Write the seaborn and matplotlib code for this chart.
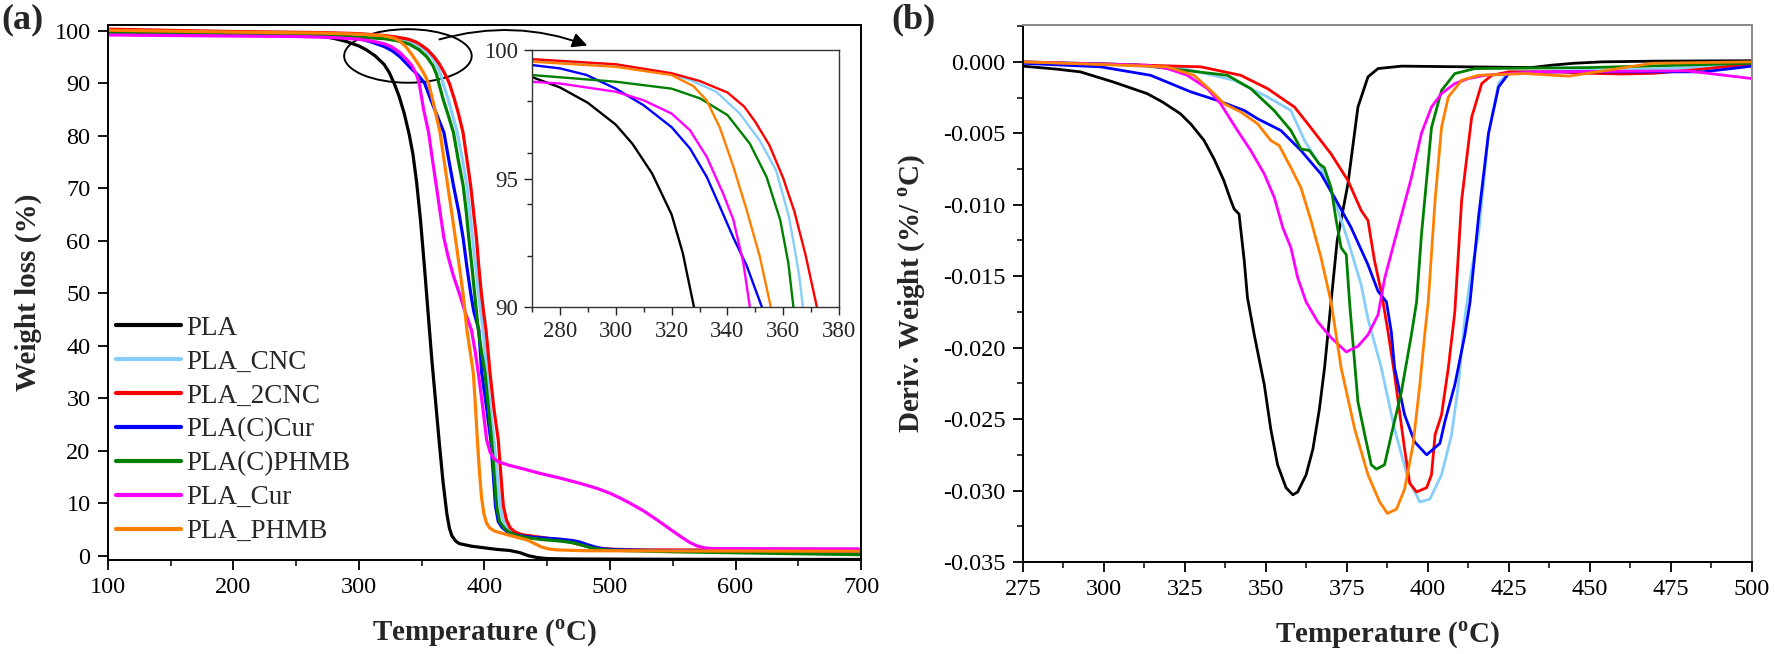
import numpy as np
import pandas as pd
import matplotlib
matplotlib.use("Agg")
import matplotlib.pyplot as plt
import seaborn as sns
from matplotlib.patches import Ellipse, FancyArrowPatch
from matplotlib.ticker import MultipleLocator, FormatStrFormatter

sns.set_style("ticks")
plt.rcParams["font.family"] = ["Liberation Serif", "DejaVu Serif"]
plt.rcParams["mathtext.fontset"] = "custom"
plt.rcParams["mathtext.rm"] = "Liberation Serif"
plt.rcParams["mathtext.bf"] = "Liberation Serif:bold"
plt.rcParams["axes.unicode_minus"] = False

samples = ["PLA", "PLA_CNC", "PLA_2CNC", "PLA(C)Cur", "PLA(C)PHMB", "PLA_Cur", "PLA_PHMB"]
colors = ["#000000", "#87CEFA", "#FF0000", "#0000FF", "#008000", "#FF00FF", "#FF8000"]

# ---- TGA (weight %) (a) and its inset ----
t_pla = [100, 200, 250, 270, 280, 290, 300, 306, 313, 320, 324, 328, 332, 336, 340, 343, 346, 349, 352,
         355, 358, 361, 364, 367, 370, 372, 374, 377, 380, 390, 400, 410, 420, 428, 435, 442, 450, 470, 550, 700]
w_pla = [99.5, 99.4, 99.2, 98.95, 98.55, 97.95, 97.1, 96.35, 95.2, 93.6, 92.1, 90.0, 87.5, 84.3, 80.3, 76.5,
         71.0, 64.0, 55.5, 46.5, 37.5, 29.5, 21.5, 14.0, 8.0, 5.3, 3.8, 2.8, 2.3, 1.8, 1.5, 1.2, 1.0, 0.6, 0.0,
         -0.35, -0.55, -0.62, -0.68, -0.72]

t_cnc = [100, 200, 270, 300, 320, 326.4, 336, 344.3, 351.5, 357.4, 360, 362, 364, 365.7, 367, 371, 374.5,
         378.3, 382, 386, 388.3, 390.5, 393, 395.1, 397, 398.8, 400.3, 401.8, 404.5, 407.6, 410, 412.4, 415,
         418.5, 422, 428, 445, 460, 470, 478, 485, 492, 500, 550, 700]
w_cnc = [100.0, 99.8, 99.6, 99.4, 99.05, 98.85, 98.38, 97.54, 96.49, 95.32, 94.3, 93.5, 92.3, 91.2, 90.0,
         87.0, 84.0, 80.6, 76.0, 70.5, 65.5, 60.5, 55.0, 50.0, 46.5, 43.0, 39.0, 34.8, 28.5, 22.0, 15.5, 9.4,
         6.6, 5.3, 4.6, 4.0, 3.3, 2.9, 2.6, 2.1, 1.6, 1.3, 1.15, 0.9, 0.6]

t_2cnc = [100, 200, 270, 300, 320, 330, 340, 346, 350, 355, 360, 364, 368, 372, 376, 379.5, 382.9, 386, 389,
          391.5, 393.6, 395.5, 397.5, 399.5, 401.2, 402.8, 404.4, 407.5, 411, 413, 415, 417.5, 420.5, 424.5,
          430, 445, 460, 470, 480, 490, 500, 520, 700]
w_2cnc = [100.3, 99.85, 99.65, 99.45, 99.1, 98.8, 98.35, 97.8, 97.2, 96.3, 95.0, 93.7, 92.0, 90.0, 87.0, 84.0,
          80.6, 75.5, 70.5, 65.0, 60.5, 55.0, 50.0, 46.0, 43.0, 39.0, 34.8, 28.0, 22.0, 15.5, 9.5, 6.8, 5.3,
          4.5, 4.0, 3.5, 3.0, 2.5, 1.9, 1.45, 1.25, 1.1, 1.05]

t_ccur = [100, 200, 270, 280, 289.6, 300, 309.9, 320, 326.6, 332.6, 337.3, 342.1, 346.9, 352.3, 357, 362,
          367.7, 371.5, 375.3, 379.5, 383, 386, 389, 391.5, 395.5, 397.8, 401.5, 405, 407, 408.8, 411, 414,
          418, 424, 435, 445, 458, 470, 476, 482, 489, 495, 505, 530, 700]
w_ccur = [99.9, 99.65, 99.42, 99.29, 99.03, 98.5, 97.86, 97.0, 96.17, 95.06, 93.9, 92.7, 91.6, 90.0, 87.0,
          84.0, 80.6, 75.5, 70.5, 65.5, 60.5, 55.0, 50.0, 46.5, 43.0, 34.8, 28.5, 22.0, 15.5, 9.4, 6.5, 5.4,
          4.6, 4.0, 3.6, 3.4, 3.2, 2.9, 2.6, 2.1, 1.6, 1.3, 1.15, 1.0, 0.8]

t_cphmb = [100, 200, 270, 300, 320, 330.2, 340, 348, 354, 358.9, 361.8, 363.6, 367, 371, 375.3, 379, 383,
           385.5, 387.5, 390, 392.1, 393.6, 395.1, 397.5, 400.4, 403, 405.7, 407.7, 409.7, 412, 416, 420, 425,
           435, 445, 460, 470, 478, 485, 492, 500, 550, 700]
w_cphmb = [99.6, 99.3, 99.03, 98.77, 98.5, 98.12, 97.47, 96.36, 95.06, 93.38, 91.7, 90.0, 87.0, 84.0, 80.6,
           75.5, 70.5, 65.5, 60.5, 55.0, 50.0, 46.5, 43.0, 39.0, 34.8, 28.5, 22.0, 15.5, 9.4, 6.5, 5.2, 4.4,
           3.9, 3.4, 3.1, 2.8, 2.5, 2.0, 1.5, 1.2, 1.05, 0.75, 0.2]

t_cur = [100, 200, 250, 270, 280, 300, 309.9, 320, 326.6, 332.6, 338.5, 342.1, 345.7, 348, 351.5, 355.5,
         358.5, 361.6, 364.6, 367.7, 371, 375, 379.9, 384.5, 389.6, 392.5, 395.1, 398.5, 401.7, 404.5, 407.5,
         411, 420, 430, 444, 460, 476, 490, 500, 508, 516, 527, 537, 547, 556, 563, 569, 575, 582, 700]
w_cur = [99.2, 99.0, 98.9, 98.77, 98.7, 98.38, 98.05, 97.53, 96.88, 95.84, 94.4, 93.4, 91.7, 90.0, 85.0, 80.6,
         75.5, 70.5, 65.5, 60.5, 57.0, 53.5, 50.0, 46.5, 43.0, 39.0, 34.8, 28.5, 22.1, 19.7, 18.5, 17.9, 17.2,
         16.6, 15.7, 14.8, 13.8, 12.8, 11.9, 11.0, 10.0, 8.5, 6.9, 5.2, 3.7, 2.6, 1.9, 1.5, 1.35, 1.3]

t_phmb = [100, 200, 270, 300, 320, 327.8, 332.5, 337.2, 342, 346.8, 351.6, 355.5, 360, 364.6, 367.7, 370.7,
          373.8, 376.8, 380, 382.9, 386, 388.5, 391.1, 392.8, 394.3, 396, 397.7, 399.5, 401.5, 404, 408, 418,
          426, 434, 440, 445, 451, 458, 480, 700]
w_phmb = [100.1, 99.75, 99.55, 99.35, 99.03, 98.6, 98.05, 97.0, 95.5, 93.8, 91.95, 90.0, 85.5, 80.6, 75.5,
          70.5, 65.5, 60.5, 55.0, 50.0, 43.0, 39.0, 34.8, 28.5, 22.1, 16.0, 11.0, 8.0, 6.3, 5.3, 4.7, 4.0, 3.5,
          3.0, 2.3, 1.7, 1.3, 1.1, 0.95, 0.85]

# ---- DTG (deriv. weight) ----
d_t_pla = [275, 285, 292.7, 302.9, 313.3, 318, 323.6, 327, 330.9, 334, 337, 339, 340.2, 341.7, 343.3, 344.3,
           346.4, 349.5, 351.5, 353.6, 356.2, 358.3, 359.8, 362.4, 364.5, 366.5, 368.1, 370.1, 372, 375.3,
           378.4, 381.5, 384.6, 391.8, 412.5, 432, 438.3, 445, 453.8, 470, 500]
d_pla = [-0.0003, -0.0005, -0.0007, -0.00141, -0.00222, -0.0028, -0.00363, -0.0044, -0.0055, -0.0068,
         -0.0083, -0.0096, -0.0103, -0.01065, -0.0139, -0.0165, -0.0191, -0.0226, -0.0257, -0.0282, -0.0298,
         -0.0303, -0.0301, -0.0289, -0.0271, -0.0243, -0.0214, -0.0168, -0.0125, -0.00855, -0.00316, -0.00105,
         -0.00047, -0.0003, -0.00035, -0.0004, -0.00023, -0.0001, 0.0, 0.00005, 0.00008]

d_t_cnc = [275, 300, 324.7, 340.2, 350.5, 357.7, 361.9, 367, 371.2, 375.3, 379.4, 381.5, 385.6, 389.7, 393.9,
           397.5, 400.6, 404.2, 407.3, 409.4, 411.4, 413.5, 415.6, 418.7, 421.8, 424.9, 440, 470, 500]
d_cnc = [-0.00005, -0.00015, -0.00047, -0.00129, -0.00246, -0.0034, -0.0055, -0.0074, -0.0097, -0.0125,
         -0.0156, -0.018, -0.0214, -0.0257, -0.0292, -0.0308, -0.0306, -0.0289, -0.0261, -0.0226, -0.0179,
         -0.0145, -0.0121, -0.005, -0.0015, -0.0007, -0.00065, -0.0005, -0.0002]

d_t_2cnc = [275, 300, 329.9, 342.2, 350.5, 358.8, 362.9, 370.1, 375.3, 379.4, 381.5, 383.5, 385.6, 387.7,
            389.7, 392.8, 394.4, 396.5, 399.6, 401.1, 402.2, 404.2, 406.3, 408.3, 410.4, 413.5, 416.6, 419.7,
            424.9, 440, 450, 460, 470, 485, 500]
d_2cnc = [-0.00005, -0.00015, -0.00035, -0.00094, -0.00187, -0.00316, -0.00433, -0.00644, -0.0083, -0.0104,
          -0.0111, -0.0139, -0.0161, -0.0189, -0.0219, -0.0271, -0.0295, -0.0301, -0.0298, -0.0289, -0.0261,
          -0.0247, -0.0214, -0.0175, -0.0097, -0.00387, -0.00152, -0.00094, -0.0007, -0.0007, -0.0008,
          -0.00085, -0.0008, -0.0005, -0.00015]

d_t_ccur = [275, 299, 314.4, 326.8, 335, 343.3, 347.4, 354.6, 360.8, 367, 371.2, 376.3, 381.5, 384.6, 387.2,
            388.7, 389.7, 392.8, 395.9, 399.6, 403.7, 405.2, 408.3, 411.4, 413, 415.6, 418.7, 421.8, 424.9, 440,
            470, 485, 500]
d_ccur = [-0.0001, -0.00035, -0.00094, -0.0021, -0.0027, -0.0034, -0.00398, -0.0048, -0.0062, -0.00785,
          -0.0095, -0.0116, -0.0142, -0.01605, -0.0168, -0.0189, -0.0214, -0.0247, -0.0266, -0.0275, -0.0267,
          -0.0252, -0.0226, -0.0191, -0.0168, -0.0109, -0.005, -0.00176, -0.00082, -0.0007, -0.0007, -0.0007,
          -0.0003]

d_t_cphmb = [275, 310, 338.1, 345.3, 352.5, 357.7, 360.8, 363.4, 366.5, 368, 370.1, 371.7, 373.2, 374.8,
             375.8, 378.4, 380.5, 382.5, 384.1, 386.6, 388.7, 391.8, 394.9, 396.5, 398, 401.1, 404.2, 408.3,
             414.5, 450, 500]
d_cphmb = [0.0, -0.0002, -0.00094, -0.00187, -0.0034, -0.0048, -0.0061, -0.0062, -0.00715, -0.0074, -0.0088,
           -0.0111, -0.013, -0.0135, -0.0168, -0.0238, -0.0261, -0.0282, -0.0285, -0.0282, -0.0261, -0.0231,
           -0.0191, -0.0168, -0.0121, -0.0046, -0.002, -0.00082, -0.00047, -0.0004, -0.0001]

d_t_cur = [275, 313.3, 319.5, 325.7, 331.9, 336, 341.2, 345.3, 349.5, 352.6, 355.2, 357.7, 359.8, 362.4, 366,
           370.1, 374.8, 378.4, 381.5, 384.6, 386.7, 390.8, 394.9, 398, 401.1, 404.2, 408.3, 412.5, 417.7, 433,
           480, 490, 500]
d_cur = [0.0, -0.00023, -0.00047, -0.00094, -0.00187, -0.00293, -0.0048, -0.0062, -0.00785, -0.0095, -0.0116,
         -0.013, -0.0151, -0.0168, -0.0182, -0.0193, -0.0203, -0.0199, -0.0191, -0.0177, -0.0151, -0.0116,
         -0.0081, -0.005, -0.00316, -0.00222, -0.00152, -0.00117, -0.00094, -0.0007, -0.00063, -0.0009,
         -0.00117]

d_t_phmb = [275, 319.5, 327.8, 333, 337.1, 342.2, 347.4, 351.5, 354.1, 357.7, 360.8, 363.9, 367, 370.1, 373.2,
            377.4, 381.5, 385.1, 387.5, 390.3, 392.8, 395.4, 397.5, 399, 400.1, 402.2, 404.2, 406.3, 410.4,
            415.6, 430, 443.5, 455, 469.3, 500]
d_phmb = [0.0, -0.00035, -0.00094, -0.002, -0.00293, -0.0035, -0.00433, -0.0055, -0.00586, -0.0074, -0.0088,
          -0.0111, -0.0137, -0.0168, -0.0214, -0.0257, -0.0289, -0.0308, -0.0316, -0.0313, -0.0299, -0.0268,
          -0.0226, -0.0191, -0.0168, -0.0097, -0.00457, -0.00246, -0.00129, -0.00094, -0.00082, -0.001,
          -0.0006, -0.0001, 0.0]

tga_t = [t_pla, t_cnc, t_2cnc, t_ccur, t_cphmb, t_cur, t_phmb]
tga_w = [w_pla, w_cnc, w_2cnc, w_ccur, w_cphmb, w_cur, w_phmb]
dtg_t = [d_t_pla, d_t_cnc, d_t_2cnc, d_t_ccur, d_t_cphmb, d_t_cur, d_t_phmb]
dtg_v = [d_pla, d_cnc, d_2cnc, d_ccur, d_cphmb, d_cur, d_phmb]

tga = pd.concat([pd.DataFrame({"T": t, "W": w, "sample": s}) for s, t, w in zip(samples, tga_t, tga_w)],
                ignore_index=True)
dtg = pd.concat([pd.DataFrame({"T": t, "D": d, "sample": s}) for s, t, d in zip(samples, dtg_t, dtg_v)],
                ignore_index=True)
palette = dict(zip(samples, colors))

fig = plt.figure(figsize=(17.75, 6.54), dpi=100)
ax1 = fig.add_axes([0.0608, 0.1437, 0.4243, 0.8181])
ax2 = fig.add_axes([0.5763, 0.1407, 0.4107, 0.8211])

tick_kw = dict(direction="out", labelsize=17.5, width=1.3, colors="black", pad=5.5)

# ---- panel (a) ----
sns.lineplot(data=tga, x="T", y="W", hue="sample", hue_order=samples, palette=palette,
             estimator=None, sort=False, lw=2.3, ax=ax1)
ax1.set_xlim(100, 700)
ax1.set_ylim(-0.82, 101.1)
ax1.xaxis.set_major_locator(MultipleLocator(100))
ax1.xaxis.set_minor_locator(MultipleLocator(50))
ax1.yaxis.set_major_locator(MultipleLocator(10))
ax1.tick_params(which="major", length=7, **tick_kw)
ax1.tick_params(which="minor", length=4, width=1.3, direction="out")
for sp in ax1.spines.values():
    sp.set_visible(True)
    sp.set_linewidth(1.4)
    sp.set_color("black")
ax1.set_xlabel(r"Temperature ($^{\mathbf{o}}$C)", fontsize=21, fontweight="bold", labelpad=14)
ax1.set_ylabel("Weight loss (%)", fontsize=21, fontweight="bold", labelpad=9)

handles, labels = ax1.get_legend_handles_labels()
leg = ax1.legend(handles, labels, loc="upper left", bbox_to_anchor=(0.0106, 0.457), frameon=False,
                 fontsize=19.5, handlelength=2.4, handletextpad=0.2, labelspacing=0.33,
                 borderpad=0, borderaxespad=0)
for ln in leg.get_lines():
    ln.set_linewidth(3.0)

# zoom marker: ellipse round the onset region and a curved arrow to the inset
ax1.add_patch(Ellipse((339, 95.2), width=101.6, height=10.2, fill=False, ec="black", lw=1.4))
arrow = FancyArrowPatch((362, 98.2), (484, 97.0), arrowstyle="-|>", color="black", lw=1.4,
                        mutation_scale=22, connectionstyle="arc3,rad=-0.17", clip_on=False)
ax1.add_patch(arrow)

# inset
axin = ax1.inset_axes([0.563, 0.473, 0.408, 0.480])
sns.lineplot(data=tga, x="T", y="W", hue="sample", hue_order=samples, palette=palette,
             estimator=None, sort=False, lw=1.7, ax=axin, legend=False)
axin.set_xlim(270, 380)
axin.set_ylim(90, 100)
axin.xaxis.set_major_locator(MultipleLocator(20))
axin.xaxis.set_minor_locator(MultipleLocator(10))
axin.yaxis.set_major_locator(MultipleLocator(5))
axin.yaxis.set_minor_locator(MultipleLocator(2))
axin.tick_params(which="major", length=6, direction="out", labelsize=16.5, width=1.0, pad=4)
axin.tick_params(which="minor", length=3.5, direction="out", width=1.0)
axin.set_xlabel("")
axin.set_ylabel("")
for sp in axin.spines.values():
    sp.set_visible(True)
    sp.set_linewidth(1.0)
    sp.set_color("#333333")

# ---- panel (b) ----
sns.lineplot(data=dtg, x="T", y="D", hue="sample", hue_order=samples, palette=palette,
             estimator=None, sort=False, lw=2.0, ax=ax2, legend=False)
ax2.set_xlim(275, 500)
ax2.set_ylim(-0.035, 0.00258)
ax2.xaxis.set_major_locator(MultipleLocator(25))
ax2.xaxis.set_minor_locator(MultipleLocator(12.5))
ax2.yaxis.set_major_locator(MultipleLocator(0.005))
ax2.yaxis.set_minor_locator(MultipleLocator(0.0025))
ax2.yaxis.set_major_formatter(FormatStrFormatter("%.3f"))
ax2.tick_params(which="major", length=7, **tick_kw)
ax2.tick_params(which="minor", length=4, width=1.3, direction="out")
for name, sp in ax2.spines.items():
    sp.set_visible(True)
    sp.set_linewidth(1.4)
    sp.set_color("black" if name in ("left", "bottom") else "#888888")
ax2.set_xlabel(r"Temperature ($^{\mathbf{o}}$C)", fontsize=21, fontweight="bold", labelpad=14)
ax2.set_ylabel(r"Deriv. Weight (%/ $^{\mathbf{o}}$C)", fontsize=21, fontweight="bold", labelpad=11)

fig.text(0.001, 0.995, "(a)", fontsize=26, fontweight="bold", va="top", ha="left")
fig.text(0.502, 0.995, "(b)", fontsize=26, fontweight="bold", va="top", ha="left")

fig.savefig("out.png", dpi=100)
